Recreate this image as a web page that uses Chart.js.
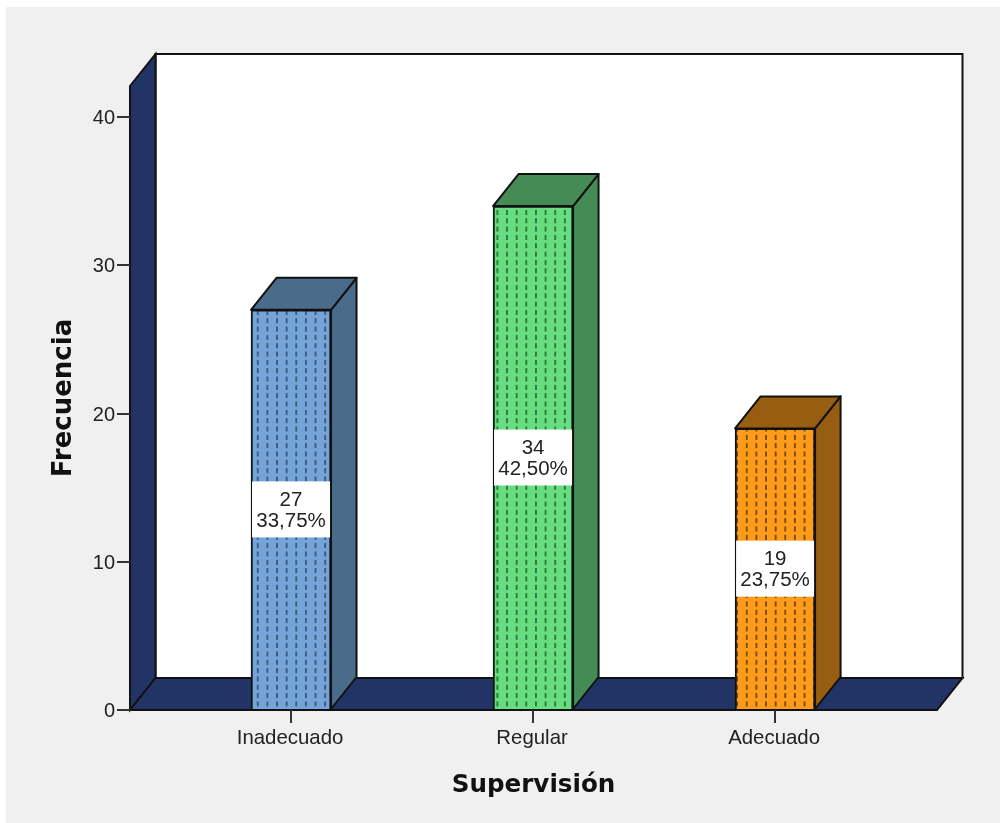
<!DOCTYPE html>
<html>
<head>
<meta charset="utf-8">
<script src="https://cdn.jsdelivr.net/npm/chart.js@4"></script>
<style>
  html, body { margin: 0; padding: 0; background: #fff; }
  #wrap { position: relative; width: 1006px; height: 823px; }
  #myChart { display: block; filter: blur(0.6px); }
</style>
</head>
<body>
<div id="wrap"><canvas id="myChart" width="1006" height="823"></canvas></div>
<script>
// Daten
const categories = ['Inadecuado', 'Regular', 'Adecuado'];
const frecuencia = [27, 34, 19];
const porcentaje = ['33,75%', '42,50%', '23,75%'];
const yTicks = [0, 10, 20, 30, 40];

// Farben: Front, Seite, Punkte
const frontColors = ['#75a5d8', '#66dd7f', '#ff9b1a'];
const sideColors = ['#4b6b8a', '#458b55', '#975d10'];
const dashColors = ['#3f5c80', '#2f7a42', '#7a4e0c'];
const wallColor = '#223466';
const lineColor = '#111111';

// 3D-Versatz der Rueckwand
const depthX = 25.5;
const depthY = 32;

function makePattern(front, dash, shift) {
    const tile = document.createElement('canvas');
    tile.width = 10;
    tile.height = 10;
    const t = tile.getContext('2d');
    t.fillStyle = front;
    t.fillRect(0, 0, 10, 10);
    t.fillStyle = dash;
    t.fillRect(4, 2, 2, 6);
    const p = t.createPattern(tile, 'repeat');
    p.setTransform(new DOMMatrix().translate(shift, 0).scale(0.963, 0.833));
    return p;
}

function poly(ctx, pts, fill) {
    ctx.beginPath();
    pts.forEach((p, i) => i ? ctx.lineTo(p[0], p[1]) : ctx.moveTo(p[0], p[1]));
    ctx.closePath();
    ctx.fillStyle = fill;
    ctx.fill();
    ctx.stroke();
}

// Hintergrund, Waende und Boden
const wallsPlugin = {
    id: 'walls',
    beforeDraw(chart) {
        const { ctx, chartArea: a } = chart;
        ctx.save();
        ctx.fillStyle = '#f0f0f0';
        ctx.fillRect(6, 7, 994, 816);
        ctx.lineWidth = 2;
        ctx.strokeStyle = lineColor;
        ctx.fillStyle = '#ffffff';
        ctx.fillRect(a.left + depthX, a.top - depthY, a.width, a.height);
        ctx.strokeRect(a.left + depthX, a.top - depthY, a.width, a.height);
        poly(ctx, [[a.left, a.top], [a.left + depthX, a.top - depthY], [a.left + depthX, a.bottom - depthY], [a.left, a.bottom]], wallColor);
        poly(ctx, [[a.left, a.bottom], [a.left + depthX, a.bottom - depthY], [a.right + depthX, a.bottom - depthY], [a.right, a.bottom]], wallColor);
        ctx.restore();
    },
    // Seiten- und Deckflaeche der Balken
    beforeDatasetsDraw(chart) {
        const ctx = chart.ctx;
        ctx.save();
        ctx.lineWidth = 2;
        ctx.strokeStyle = lineColor;
        ctx.lineJoin = 'round';
        chart.getDatasetMeta(0).data.forEach((bar, i) => {
            const l = bar.x - bar.width / 2;
            const r = bar.x + bar.width / 2;
            poly(ctx, [[r, bar.y], [r + depthX, bar.y - depthY], [r + depthX, bar.base - depthY], [r, bar.base]], sideColors[i]);
            poly(ctx, [[l, bar.y], [l + depthX, bar.y - depthY], [r + depthX, bar.y - depthY], [r, bar.y]], sideColors[i]);
        });
        ctx.restore();
    },
    // Beschriftung in der Mitte der Balken
    afterDatasetsDraw(chart) {
        const ctx = chart.ctx;
        ctx.save();
        chart.getDatasetMeta(0).data.forEach((bar, i) => {
            const mid = (bar.y + bar.base) / 2;
            ctx.fillStyle = '#ffffff';
            ctx.fillRect(bar.x - bar.width / 2 + 1, mid - 28, bar.width - 2, 56);
            ctx.fillStyle = '#222222';
            ctx.font = '20.5px "Liberation Sans"';
            ctx.textAlign = 'center';
            ctx.textBaseline = 'middle';
            ctx.fillText(String(frecuencia[i]), bar.x, mid - 9);
            ctx.fillText(porcentaje[i], bar.x, mid + 12);
        });
        ctx.restore();
    }
};

const chart = new Chart('myChart', {
    type: 'bar',
    data: {
        datasets: [{
            data: frecuencia.map((v, i) => ({ x: i, y: v })),
            backgroundColor: [
                makePattern(frontColors[0], dashColors[0], 252.9),
                makePattern(frontColors[1], dashColors[1], 502.2),
                makePattern(frontColors[2], dashColors[2], 741.9)
            ],
            borderColor: lineColor,
            borderWidth: 2,
            barThickness: 80
        }]
    },
    plugins: [wallsPlugin],
    options: {
        responsive: false,
        animation: false,
        layout: { padding: { left: 0, right: 69, top: 86, bottom: 0 } },
        plugins: { legend: { display: false }, tooltip: { enabled: false } },
        scales: {
            x: {
                type: 'linear',
                offset: false,
                min: -0.6653,
                max: 2.669,
                afterFit(scale) { scale.height = 113; },
                afterBuildTicks(scale) { scale.ticks = categories.map((c, i) => ({ value: i })); },
                grid: { offset: false, drawOnChartArea: false, drawTicks: true, tickLength: 13, color: '#333333', lineWidth: 2 },
                border: { display: false },
                ticks: {
                    color: '#222222',
                    font: { family: '"Liberation Sans"', size: 20.4 },
                    padding: 3,
                    labelOffset: -1,
                    maxRotation: 0,
                    autoSkip: false,
                    callback: v => categories[v]
                },
                title: {
                    display: true,
                    text: 'Supervisión',
                    color: '#111111',
                    font: { family: '"DejaVu Sans"', size: 24.6, weight: 'bold' },
                    padding: { top: 0, bottom: 22.2 }
                }
            },
            y: {
                min: 0,
                max: 42.1,
                afterFit(scale) { scale.width = 130; },
                afterBuildTicks(scale) { scale.ticks = yTicks.map(v => ({ value: v })); },
                grid: { drawOnChartArea: false, drawTicks: true, tickLength: 13, color: '#333333', lineWidth: 2 },
                border: { display: false },
                ticks: {
                    color: '#222222',
                    font: { family: '"Liberation Sans"', size: 20 },
                    padding: 2,
                    labelOffset: 1.5
                },
                title: {
                    display: true,
                    text: 'Frecuencia',
                    color: '#111111',
                    font: { family: '"DejaVu Sans"', size: 26, weight: 'bold' },
                    padding: { top: 48.4, bottom: 0 }
                }
            }
        }
    }
});
</script>
</body>
</html>
